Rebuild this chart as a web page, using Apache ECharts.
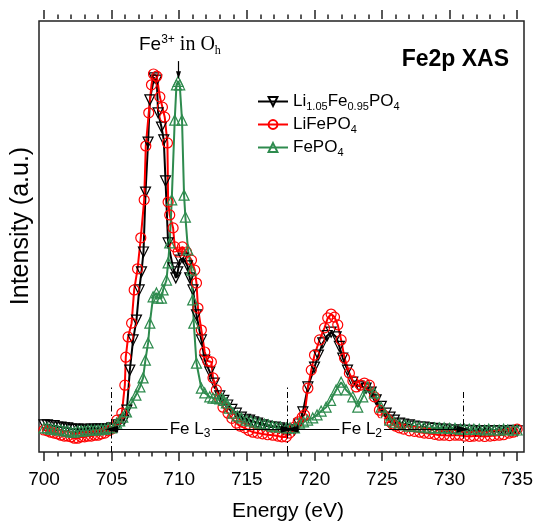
<!DOCTYPE html>
<html>
<head>
<meta charset="UTF-8">
<title>Fe2p XAS</title>
<script src="https://cdn.jsdelivr.net/npm/echarts@6/dist/echarts.min.js"></script>
<style>
    html, body {margin: 0; padding: 0; background: #fff;}
    #chart {width: 536px; height: 522px;}
</style>
</head>
<body>
<div id="chart"></div>
<script>
// x axis (eV)
var xMin = 700, xMax = 735, xStep = 5;

// Li1.05Fe0.95PO4 (black, down triangles)
var blackE = [700, 700.25, 700.5, 700.75, 701, 701.25, 701.5, 701.75, 702, 702.25, 702.5, 702.75, 703, 703.25, 703.5, 703.75, 704, 704.25, 704.5, 704.75,
    705.02, 705.46, 705.91, 706.13, 706.35, 706.59, 706.84, 707.04, 707.21, 707.36, 707.51, 707.70, 707.83, 708.14, 708.34, 708.44, 708.69, 708.86, 708.99,
    709.18, 709.55, 709.75, 709.89, 710.04, 710.29, 710.61, 710.78, 711.02, 711.28, 711.64, 711.89, 712.26, 712.6, 713.0, 713.3, 713.59, 713.9, 714.23,
    714.6, 714.9, 715.21, 715.5, 715.8, 716.17, 716.5, 716.8, 717.1, 717.43, 717.7, 717.94, 718.2, 718.53, 718.85, 719.15, 719.52, 720.01, 720.3, 720.62,
    720.95, 721.24, 721.61, 721.85, 722.1, 722.45, 722.84, 723.3, 723.83, 724.2, 724.57, 724.95, 725.31, 725.6, 725.92, 726.3, 726.6, 727.03, 727.4, 727.8,
    728.1, 728.5, 728.9, 729.3, 729.7, 730.1, 730.4, 730.72, 731.1, 731.5, 731.9, 732.3, 732.6, 732.93, 733.3, 733.7, 734.0, 734.4, 734.7, 735];
var blackI = [6.3, 6.3, 6.1, 6.1, 5.8, 5.8, 5.6, 5.6, 5.3, 5.3, 5.3, 5.1, 5.3, 5.1, 5.3, 5.3, 5.3, 5.3, 5.3, 5.3,
    5.6, 6.3, 7.4, 9.7, 19.0, 26.0, 30.6, 37.6, 41.8, 46.4, 60.3, 71.9, 81.7, 86.8, 86.3, 78.7, 75.4, 72.4, 62.9,
    48.5, 42.7, 40.4, 41.8, 44.5, 45.0, 43.2, 40.4, 37.6, 31.8, 26.0, 21.3, 18.6, 16.0, 13.0, 12.0, 10.9, 9.9, 9.0,
    8.1, 7.6, 7.4, 7.0, 6.7, 6.3, 6.0, 5.8, 5.8, 5.6, 5.3, 5.1, 5.1, 5.1, 6.5, 9.3, 15.1, 19.7, 22.5, 25.3,
    27.0, 27.8, 26.7, 24.5, 21.8, 19.0, 16.2, 15.3, 14.8, 13.9, 12.1, 10.6, 9.0, 8.1, 7.4, 6.7, 6.5, 6.3, 6.0, 5.8,
    5.8, 5.6, 5.5, 5.3, 5.3, 5.1, 5.1, 5.1, 5.0, 5.0, 4.9, 4.9, 4.9, 4.9, 4.9, 4.9, 4.9, 4.9, 5.0, 4.9];

// LiFePO4 (red, circles)
var redE = [700, 700.25, 700.5, 700.75, 701, 701.25, 701.5, 701.75, 702, 702.25, 702.5, 702.75, 703, 703.25, 703.5, 703.75, 704, 704.25, 704.5, 704.75,
    705, 705.39, 705.76, 705.98, 706.05, 706.22, 706.48, 706.67, 706.92, 707.16, 707.41, 707.53, 707.75, 707.95, 708.10, 708.34, 708.57, 708.76, 708.93,
    709.13, 709.18, 709.30, 709.55, 709.67, 709.92, 710.24, 710.54, 710.91, 711.15, 711.28, 711.39, 711.64, 711.89, 712.11, 712.38, 712.50, 712.75, 713.0,
    713.24, 713.61, 713.9, 714.23, 714.5, 714.84, 715.15, 715.45, 715.8, 716.17, 716.55, 716.93, 717.3, 717.6, 717.92, 718.16, 718.53, 718.8, 719.1, 719.27,
    719.52, 719.77, 720.01, 720.38, 720.75, 720.99, 721.24, 721.49, 721.73, 721.98, 722.23, 722.59, 722.85, 723.09, 723.41, 723.70, 724.07, 724.44, 724.81,
    725.05, 725.31, 725.55, 725.77, 726.0, 726.29, 726.6, 727.03, 727.4, 727.8, 728.13, 728.5, 728.9, 729.24, 729.6, 730.0, 730.4, 730.72, 731.1, 731.5,
    731.8, 732.19, 732.6, 733.0, 733.3, 733.67, 734.0, 734.41, 734.7, 735];
var redI = [5.1, 4.9, 4.6, 4.4, 4.2, 3.9, 3.7, 3.7, 3.5, 3.2, 3.2, 3.5, 3.5, 3.7, 3.7, 3.9, 3.9, 4.2, 4.4, 4.9,
    5.3, 7.4, 9.0, 15.5, 22.0, 26.7, 29.9, 37.6, 42.5, 49.7, 58.5, 71.0, 78.7, 85.2, 87.7, 87.2, 82.4, 80.0, 77.7,
    71.7, 58.0, 55.0, 52.0, 47.6, 46.4, 47.6, 46.4, 44.5, 42.2, 39.2, 33.4, 28.3, 23.2, 21.1, 20.9, 17.2, 14.4, 12.3,
    10.4, 9.0, 7.8, 6.7, 6.0, 5.6, 5.0, 4.6, 4.4, 4.2, 4.0, 3.9, 3.7, 3.5, 3.5, 4.4, 5.8, 7.0, 8.1, 8.6,
    14.8, 19.0, 22.5, 26.0, 28.8, 31.1, 32.0, 31.3, 29.5, 26.0, 21.8, 18.3, 16.5, 15.1, 15.5, 16.0, 15.5, 12.8, 9.7,
    8.8, 7.9, 7.1, 6.5, 6.0, 5.6, 5.3, 4.9, 4.8, 4.6, 4.4, 4.3, 4.1, 3.9, 3.9, 3.8, 3.9, 3.9, 3.7, 3.6,
    3.7, 3.7, 3.6, 3.7, 3.8, 3.9, 4.0, 4.4, 4.6, 5.3];

// FePO4 (green, up triangles)
var greenE = [700, 700.25, 700.5, 700.75, 701, 701.25, 701.5, 701.75, 702, 702.25, 702.5, 702.75, 703, 703.25, 703.5, 703.75, 704, 704.25, 704.5, 704.75,
    705, 705.37, 705.6, 705.83, 706.1, 706.48, 706.8, 707.1, 707.33, 707.5, 707.70, 707.83, 708.07, 708.32, 708.44, 708.69, 708.81, 709.06, 709.18,
    709.30, 709.45, 709.67, 709.80, 709.92, 710.04, 710.21, 710.36, 710.46, 710.65, 710.91, 711.0, 711.08, 711.28, 711.64, 711.89, 712.26, 712.5, 712.75,
    713.0, 713.14, 713.3, 713.49, 713.7, 713.98, 714.3, 714.6, 714.97, 715.3, 715.6, 715.95, 716.3, 716.6, 716.9, 717.18, 717.5, 717.94, 718.2, 718.53,
    718.9, 719.2, 719.5, 719.88, 720.2, 720.5, 720.87, 721.2, 721.61, 721.98, 722.35, 722.84, 723.21, 723.58, 723.95, 724.44, 724.94, 725.25, 725.55,
    725.9, 726.29, 726.7, 727.0, 727.4, 727.76, 728.1, 728.5, 728.9, 729.24, 729.6, 730.0, 730.4, 730.8, 731.1, 731.46, 731.8, 732.2, 732.6, 732.9,
    733.3, 733.67, 734.0, 734.3, 734.7, 735];
var greenI = [5.6, 5.6, 5.3, 5.3, 5.1, 5.1, 4.9, 4.9, 4.6, 4.6, 4.9, 4.9, 4.9, 5.1, 5.1, 5.1, 5.1, 5.3, 5.3, 5.6,
    5.6, 6.7, 7.2, 8.1, 9.3, 11.4, 13.2, 15.1, 17.2, 21.3, 25.3, 29.9, 36.0, 36.9, 35.7, 35.7, 37.6, 39.9, 43.9,
    48.5, 58.5, 77.0, 85.2, 86.0, 85.2, 77.0, 59.6, 54.5, 46.9, 42.2, 35.3, 29.9, 20.6, 14.8, 13.7, 12.8, 12.5, 12.5,
    12.3, 12.5, 12.0, 11.4, 10.2, 9.0, 8.4, 7.9, 7.4, 7.2, 6.9, 6.7, 6.5, 6.3, 6.0, 5.8, 5.8, 5.6, 5.6, 5.6,
    6.7, 7.0, 7.4, 7.9, 8.6, 9.5, 10.4, 12.0, 14.4, 16.2, 14.4, 12.8, 10.4, 12.8, 15.1, 13.7, 10.4, 8.6, 7.4,
    6.9, 6.5, 6.3, 6.0, 6.0, 5.8, 5.8, 5.6, 5.6, 5.6, 5.6, 5.5, 5.5, 5.3, 5.3, 5.3, 5.3, 5.3, 5.1, 5.3,
    5.1, 5.1, 5.3, 5.1, 5.1, 5.1];

// edges marked on the plot
var edgeE = [705, 718, 731];

function pairs(xs, ys) {
    return xs.map(function (x, i) { return [x, ys[i]]; });
}

var font = 'Liberation Sans';
var subRich = {
    n: {fontFamily: font, fontSize: 17, lineHeight: 24, color: '#000'},
    s: {fontFamily: font, fontSize: 11, lineHeight: 24, padding: [10, 0, 0, 0], color: '#000'}
};
var legendText = {
    'Li1.05Fe0.95PO4': '{n|Li}{s|1.05}{n|Fe}{s|0.95}{n|PO}{s|4}',
    'LiFePO4': '{n|LiFePO}{s|4}',
    'FePO4': '{n|FePO}{s|4}'
};

var dashDot = {color: '#000', width: 1, type: [6, 3, 1.5, 3]};
var arrowLine = {color: '#000', width: 1.2, type: 'solid'};

var chart = echarts.init(document.getElementById('chart'));
var option = {
    animation: false,
    title: {
        text: 'Fe2p XAS',
        right: 22,
        top: 43,
        textStyle: {fontFamily: font, fontSize: 23, fontWeight: 'bold', color: '#000'}
    },
    legend: {
        data: ['Li1.05Fe0.95PO4', 'LiFePO4', 'FePO4'],
        orient: 'vertical',
        left: 252,
        top: 86,
        itemWidth: 30,
        itemHeight: 11,
        itemGap: 2,
        symbolRotate: 'inherit',
        formatter: function (name) { return legendText[name]; },
        textStyle: {rich: subRich}
    },
    grid: {left: 44, width: 474, top: 21, height: 431},
    xAxis: [{
        type: 'value', min: xMin, max: xMax, interval: xStep, position: 'bottom', offset: 2,
        axisLine: {show: false},
        axisTick: {length: 9, lineStyle: {color: '#222', width: 1.5}},
        minorTick: {show: true, splitNumber: 5, length: 4.5, lineStyle: {color: '#222', width: 1.5}},
        splitLine: {show: false},
        axisLabel: {margin: 16, fontFamily: font, fontSize: 19, color: '#000'}
    }, {
        type: 'value', min: xMin, max: xMax, interval: xStep, position: 'top', offset: 2,
        axisLine: {show: false},
        axisTick: {length: 9, lineStyle: {color: '#222', width: 1.5}},
        minorTick: {show: true, splitNumber: 5, length: 4.5, lineStyle: {color: '#222', width: 1.5}},
        splitLine: {show: false},
        axisLabel: {show: false}
    }],
    yAxis: {type: 'value', min: 0, max: 100, show: false},
    graphic: [
        {type: 'rect', shape: {x: 39, y: 21, width: 485, height: 431}, style: {fill: 'none', stroke: '#222', lineWidth: 1.5}, z: 0},
        {type: 'text', x: 21, y: 226, rotation: Math.PI / 2,
            style: {text: 'Intensity (a.u.)', font: '25px "Liberation Sans"', fill: '#000', align: 'center', verticalAlign: 'middle'}},
        {type: 'text', x: 288, y: 511,
            style: {text: 'Energy (eV)', font: '21px "Liberation Sans"', fill: '#000', align: 'center', verticalAlign: 'middle'}},
        {type: 'text', x: 139, y: 32,
            style: {
                text: '{a|Fe}{sup|3+}{b| in O}{sub|h}',
                rich: {
                    a: {fontFamily: font, fontSize: 19, lineHeight: 26, fill: '#000'},
                    sup: {fontFamily: font, fontSize: 12, lineHeight: 26, padding: [0, 0, 11, 0], fill: '#000'},
                    b: {fontFamily: 'Liberation Serif', fontSize: 20, lineHeight: 26, fill: '#000'},
                    sub: {fontFamily: 'Liberation Serif', fontSize: 12, lineHeight: 26, padding: [11, 0, 0, 0], fill: '#000'}
                }
            }}
    ],
    series: [{
        name: 'Li1.05Fe0.95PO4',
        type: 'line',
        data: pairs(blackE, blackI),
        color: '#000',
        symbol: 'triangle',
        symbolRotate: 180,
        symbolSize: 10,
        lineStyle: {color: '#000', width: 2},
        itemStyle: {color: 'rgba(255,255,255,0)', borderColor: '#000', borderWidth: 1.2},
        markLine: {
            silent: true,
            symbol: 'none',
            label: {show: false},
            data: [
                [{coord: [edgeE[0], 0], lineStyle: dashDot}, {coord: [edgeE[0], 15.5]}],
                [{coord: [edgeE[1], 0], lineStyle: dashDot}, {coord: [edgeE[1], 15.5]}],
                [{coord: [edgeE[2], 0], lineStyle: dashDot}, {coord: [edgeE[2], 14]}],
                [{coord: [edgeE[0], 5.3], symbol: 'triangle', symbolSize: [7, 13], lineStyle: arrowLine},
                    {coord: [edgeE[1], 5.3], symbol: 'triangle', symbolSize: [7, 13]}],
                [{coord: [edgeE[1] + 0.35, 5.3], symbol: 'triangle', symbolSize: [7, 13], lineStyle: arrowLine},
                    {coord: [edgeE[2], 5.3], symbol: 'triangle', symbolSize: [7, 13]}],
                [{coord: [709.95, 90.7], symbol: 'none', lineStyle: arrowLine},
                    {coord: [709.95, 87.4], symbol: 'triangle', symbolSize: [5, 8]}]
            ]
        },
        markPoint: {
            silent: true,
            symbol: 'circle',
            symbolSize: 1,
            itemStyle: {color: 'rgba(255,255,255,0)'},
            label: {
                show: true,
                position: 'inside',
                backgroundColor: '#fff',
                padding: [0, 2, 0, 2],
                rich: {
                    n: {fontFamily: font, fontSize: 17, lineHeight: 22, color: '#000'},
                    s: {fontFamily: font, fontSize: 12, lineHeight: 22, padding: [10, 0, 0, 0], color: '#000'}
                }
            },
            data: [
                {coord: [710.8, 5.3], label: {formatter: '{n|Fe L}{s|3}'}},
                {coord: [723.5, 5.3], label: {formatter: '{n|Fe L}{s|2}'}}
            ]
        }
    }, {
        name: 'LiFePO4',
        type: 'line',
        data: pairs(redE, redI),
        color: '#ff0000',
        symbol: 'circle',
        symbolSize: 10,
        lineStyle: {color: '#ff0000', width: 2},
        itemStyle: {color: 'rgba(255,255,255,0)', borderColor: '#ff0000', borderWidth: 1.2}
    }, {
        name: 'FePO4',
        type: 'line',
        data: pairs(greenE, greenI),
        color: '#2e8b4e',
        symbol: 'triangle',
        symbolSize: 10,
        lineStyle: {color: '#2e8b4e', width: 2},
        itemStyle: {color: 'rgba(255,255,255,0)', borderColor: '#2e8b4e', borderWidth: 1.2}
    }]
};
chart.setOption(option);
</script>
</body>
</html>
